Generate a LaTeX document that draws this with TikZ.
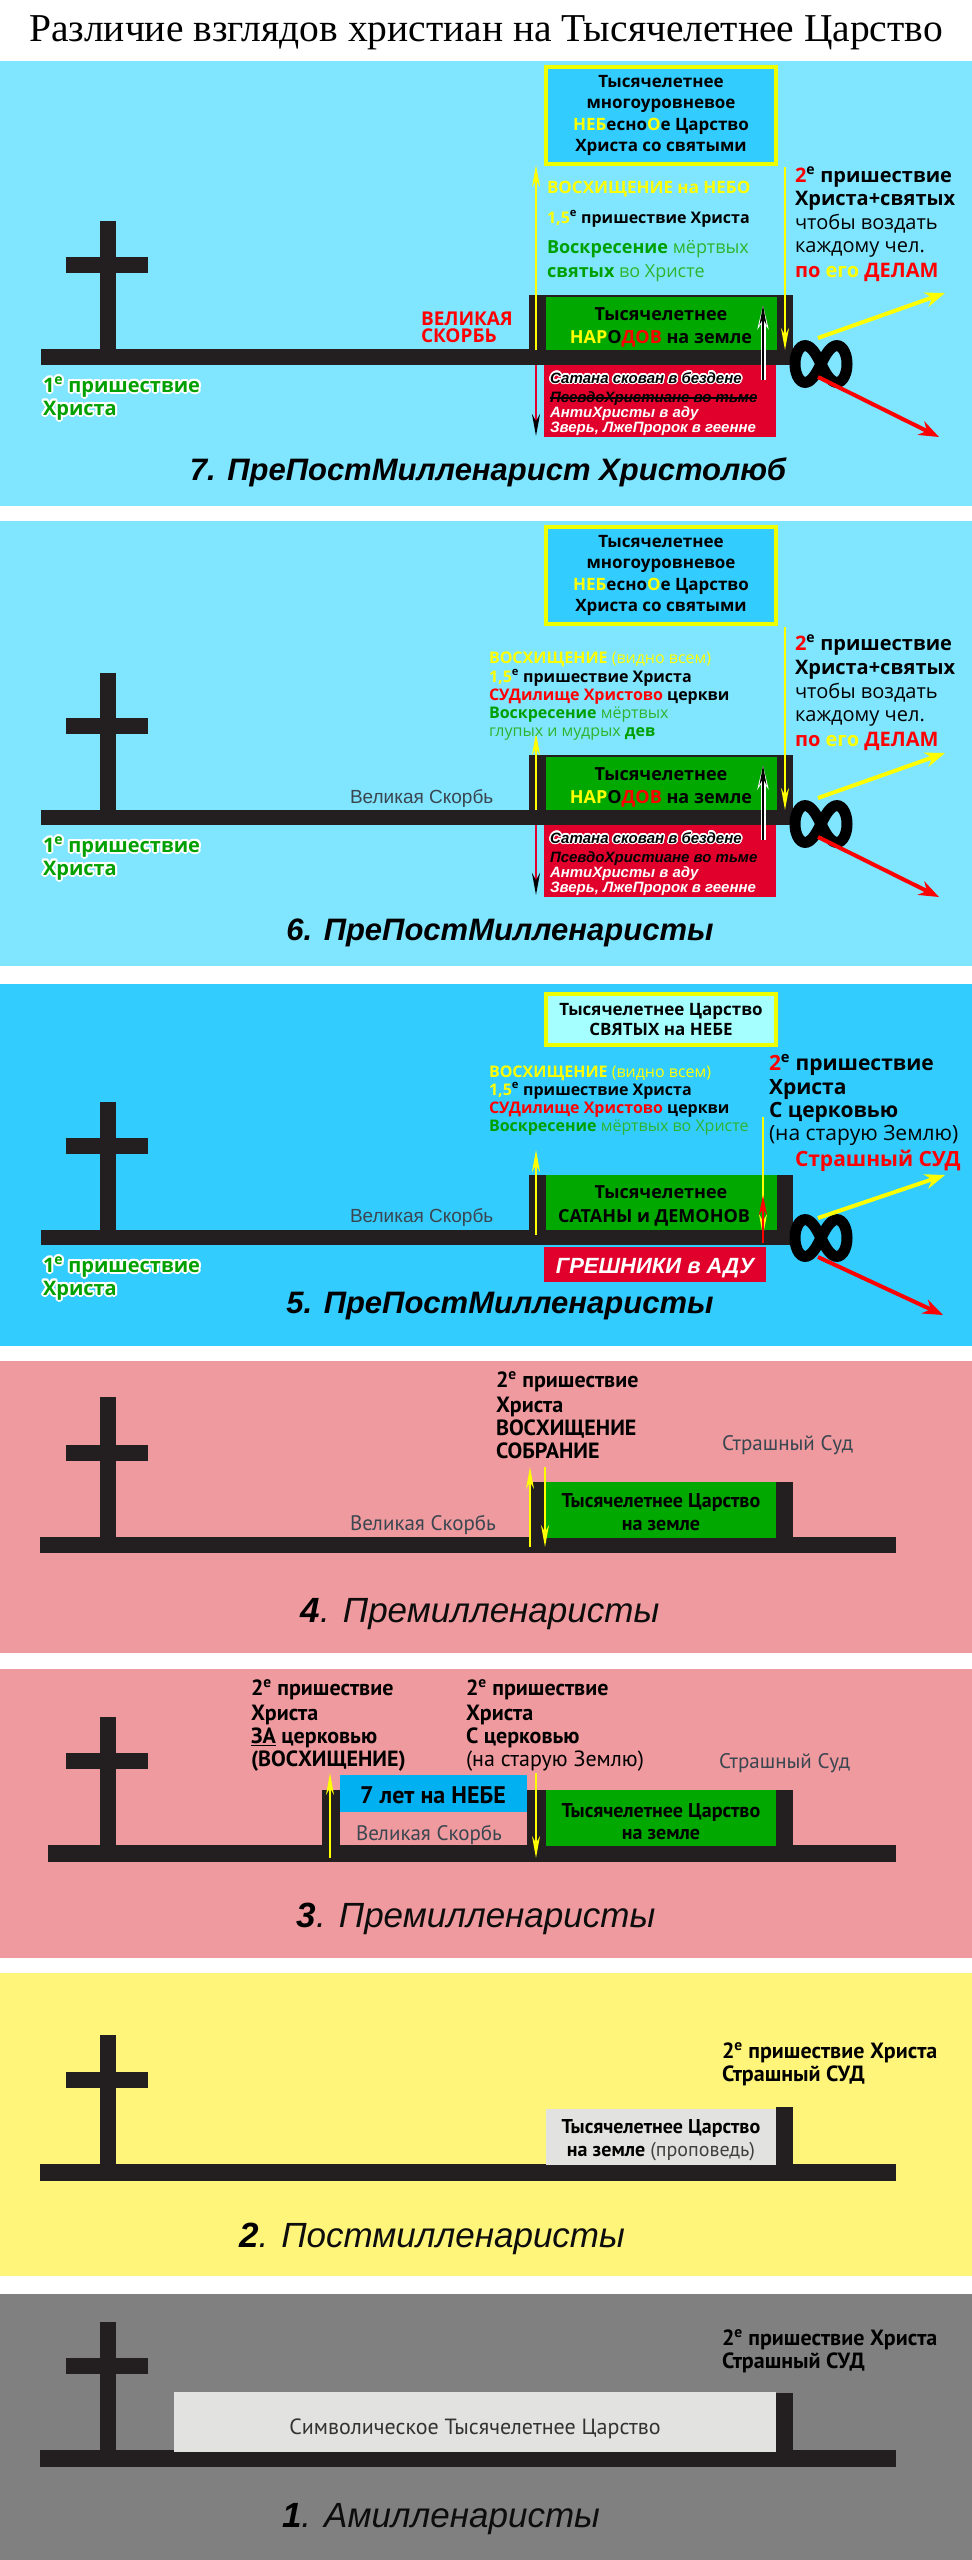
\documentclass[tikz,border=0pt]{standalone}
\usepackage{fontspec}
\setmainfont{Liberation Sans}
\newfontfamily\opensans{Open Sans}
\newfontfamily\ptsans{PT Sans}
\newfontfamily\titleserif{Liberation Serif}
\usepackage[copies]{contour}
\contourlength{1.3pt}
\usetikzlibrary{arrows.meta}
\definecolor{skylt}{HTML}{80E5FF}
\definecolor{skydk}{HTML}{33CCFF}
\definecolor{palecyan}{HTML}{A6FFFF}
\definecolor{kyellow}{HTML}{FFFF00}
\definecolor{rimyel}{HTML}{EEFF00}
\definecolor{kgreen}{HTML}{00A800}
\definecolor{tgreen}{HTML}{00A000}
\definecolor{lgreen}{HTML}{2DB52D}
\definecolor{kred}{HTML}{E0002B}
\definecolor{tred}{HTML}{FF0000}
\definecolor{pinkbg}{HTML}{EF9A9E}
\definecolor{yelbg}{HTML}{FFF57A}
\definecolor{graybg}{HTML}{808080}
\definecolor{tlblack}{HTML}{231F20}
\definecolor{greytext}{HTML}{3A4650}
\definecolor{heaven}{HTML}{00B0F0}
\definecolor{lightbox}{HTML}{E2E2E0}
\pgfdeclarelayer{bglayer}
\pgfdeclarelayer{edgelayer}
\pgfdeclarelayer{nodelayer}
\pgfsetlayers{bglayer,edgelayer,nodelayer,main}
\newcommand{\fsz}[1]{\fontsize{#1}{#1}\selectfont}
\newcommand{\supE}{\textsuperscript{е}}
\newcommand{\crossmark}[3]{%
  \fill[tlblack] (100,#1) rectangle (116,#3);
  \fill[tlblack] (66,#2) rectangle (148,#2+16);}
\newcommand{\infsign}[2]{%
  \draw[style=infinity] plot[domain=0:355, samples=72, smooth cycle]
    ({#1+26*cos(\x)/(1+pow(sin(\x),2))}, {#2+52*sin(\x)*cos(\x)/(1+pow(sin(\x),2))});}
\tikzstyle{none} = [inner sep=0pt, outer sep=0pt]
\tikzstyle{ttl} = [none, anchor=base, font=\bfseries\itshape\fsz{31}]
\tikzstyle{ttlnarrow} = [none, anchor=base, text=black!95, font=\itshape\fsz{35}]
\tikzstyle{boxline} = [none, anchor=base, font=\opensans\bfseries\fsz{17}]
\tikzstyle{lefttxt} = [none, anchor=base west, font=\opensans\bfseries\fsz{16}]
\tikzstyle{righttxt} = [none, anchor=base west, font=\opensans\bfseries\fsz{20}]
\tikzstyle{hell} = [none, anchor=base west, text=white, font=\bfseries\itshape\fsz{15}]
\tikzstyle{condtxt} = [none, anchor=base west, font=\ptsans\bfseries\fsz{22}]
\tikzstyle{greytxt} = [none, anchor=base west, text=greytext, font=\fsz{19}]
\tikzstyle{greynarrow} = [none, anchor=base west, text=greytext, font=\ptsans\fsz{21}]
\tikzstyle{yarrow} = [draw=kyellow, line width=2.5pt, -{Stealth[length=22pt,width=8pt]}]
\tikzstyle{rdown} = [draw=kred, line width=2.5pt, -{Stealth[length=22pt,width=8pt,color=black]}]
\tikzstyle{rup} = [draw=tred, line width=2.5pt, -{Stealth[length=20pt,width=8pt]}]
\tikzstyle{wbehind} = [draw=white, line width=5pt, -{Stealth[length=24pt,width=11pt]}]
\tikzstyle{barrow} = [draw=black, line width=2pt, -{Stealth[length=20pt,width=7pt]}]
\tikzstyle{ydiag} = [draw=kyellow, line width=4pt, -{Stealth[length=20pt,width=15pt]}]
\tikzstyle{rdiag} = [draw=tred, line width=4pt, -{Stealth[length=20pt,width=15pt]}]
\tikzstyle{infinity} = [draw=black, line width=11pt]
\begin{document}
\begin{tikzpicture}[x=1pt, y=-1pt]
	\useasboundingbox (0,0) rectangle (972,2560);
	\begin{pgfonlayer}{bglayer}
		\fill[white] (0,0) rectangle (972,2560);
		\fill[skylt] (0,61) rectangle (972,506);
		\fill[skylt] (0,521) rectangle (972,966);
		\fill[skydk] (0,984) rectangle (972,1346);
		\fill[pinkbg] (0,1361) rectangle (972,1653);
		\fill[pinkbg] (0,1669) rectangle (972,1958);
		\fill[yelbg] (0,1973) rectangle (972,2276);
		\fill[graybg] (0,2294) rectangle (972,2560);
		\crossmark{221}{257}{365}
		\fill[tlblack] (41,349) rectangle (793,365);
		\fill[tlblack] (529,295) rectangle (793,365);
		\fill[kgreen] (546,297) rectangle (777,350);
		\fill[kred] (544,365) rectangle (776,437);
		\filldraw[fill=skydk, draw=rimyel, line width=4pt] (546,67) rectangle (776,164);
		\crossmark{673}{718}{825}
		\fill[tlblack] (41,810) rectangle (793,825);
		\fill[tlblack] (529,755) rectangle (793,825);
		\fill[kgreen] (546,757) rectangle (777,810);
		\fill[kred] (544,825) rectangle (776,897);
		\filldraw[fill=skydk, draw=rimyel, line width=4pt] (546,527) rectangle (776,624);
		\crossmark{1102}{1138}{1245}
		\fill[tlblack] (41,1230) rectangle (793,1245);
		\fill[tlblack] (529,1175) rectangle (793,1245);
		\fill[kgreen] (546,1175) rectangle (777,1230);
		\fill[kred] (544,1247) rectangle (766,1282);
		\filldraw[fill=palecyan, draw=rimyel, line width=4pt] (546,994) rectangle (776,1045);
		\crossmark{1397}{1445}{1553}
		\fill[tlblack] (40,1537) rectangle (896,1553);
		\fill[tlblack] (530,1482) rectangle (793,1553);
		\fill[kgreen] (546,1482) rectangle (776,1538);
		\crossmark{1717}{1753}{1862}
		\fill[tlblack] (48,1845) rectangle (896,1862);
		\fill[tlblack] (322,1790) rectangle (340,1862);
		\fill[heaven] (340,1775) rectangle (527,1812);
		\fill[tlblack] (527,1790) rectangle (793,1862);
		\fill[kgreen] (546,1790) rectangle (776,1846);
		\crossmark{2035}{2072}{2181}
		\fill[tlblack] (40,2164) rectangle (896,2181);
		\fill[tlblack] (776,2107) rectangle (793,2181);
		\fill[lightbox] (546,2109) rectangle (776,2165);
		\crossmark{2322}{2358}{2467}
		\fill[tlblack] (40,2450) rectangle (896,2467);
		\fill[tlblack] (776,2393) rectangle (793,2467);
		\fill[lightbox] (174,2392) rectangle (776,2452);
	\end{pgfonlayer}
	\begin{pgfonlayer}{nodelayer}
		\node [style=none, anchor=base, font=\titleserif\fsz{39.5}] (head) at (486,41) {Различие взглядов христиан на Тысячелетнее Царство};
		\node [style=boxline] (p7k1) at (661,87) {Тысячелетнее};
		\node [style=boxline] (p7k2) at (661,108) {многоуровневое};
		\node [style=boxline] (p7k3) at (661,130) {{\color{kyellow}НЕБ}есно{\color{kyellow}О}е Царство};
		\node [style=boxline] (p7k4) at (661,151) {Христа со святыми};
		\node [style=lefttxt, text=kyellow, font=\opensans\bfseries\fsz{17}] (p7v1) at (547,193) {ВОСХИЩЕНИЕ на НЕБО};
		\node [style=lefttxt] (p7v2) at (547,223) {{\color{kyellow}1,5}\supE{} пришествие Христа};
		\node [style=lefttxt, text=lgreen, font=\opensans\fsz{18}] (p7v3) at (547,253) {{\bfseries\color{tgreen}Воскресение} мёртвых};
		\node [style=lefttxt, text=lgreen, font=\opensans\fsz{18}] (p7v4) at (547,277) {{\bfseries\color{tgreen}святых} во Христе};
		\node [style=righttxt] (p7r1) at (795,182) {{\color{tred}2}\supE{} пришествие};
		\node [style=righttxt] (p7r2) at (795,205) {Христа+святых};
		\node [style=righttxt, font=\opensans\fsz{20}] (p7r3) at (795,229) {чтобы воздать};
		\node [style=righttxt, font=\opensans\fsz{20}] (p7r4) at (795,252) {каждому чел.};
		\node [style=righttxt] (p7r5) at (795,277) {{\color{tred}по} {\color{kyellow}его} {\color{tred}ДЕЛАМ}};
		\node [style=none, anchor=base west, text=tred, font=\opensans\bfseries\fsz{19}] (p7s1) at (421,325) {ВЕЛИКАЯ};
		\node [style=none, anchor=base west, text=tred, font=\opensans\bfseries\fsz{19}] (p7s2) at (421,342) {СКОРБЬ};
		\node [style=boxline, font=\opensans\bfseries\fsz{18}] (p7g1) at (661,320) {Тысячелетнее};
		\node [style=boxline, font=\opensans\bfseries\fsz{18}] (p7g2) at (661,343) {{\color{kyellow}НАР}О{\color{tred}ДОВ} на земле};
		\node [style=hell, text=black] (p7h1) at (550,383) {\contour{white}{Сатана скован в бездене}};
		\node [style=hell, text=black] (p7h2) at (550,402) {ПсевдоХристиане во тьме};
		\node [style=hell] (p7h3) at (550,417) {АнтиХристы в аду};
		\node [style=hell] (p7h4) at (550,432) {Зверь, ЛжеПророк в геенне};
		\draw [black, line width=1.2pt] ([yshift=4pt]p7h2.base west) -- ([yshift=4pt]p7h2.base east);
		\node [style=none, anchor=base west, text=tgreen, font=\opensans\bfseries\fsz{20}] (p7c1) at (43,392) {\contourlength{2pt}\contour{white}{1\supE{} пришествие}};
		\node [style=none, anchor=base west, text=tgreen, font=\opensans\bfseries\fsz{20}] (p7c2) at (43,415) {\contourlength{2pt}\contour{white}{Христа}};
		\node [style=ttl] (p7t) at (488,480) {7. ПреПостМилленарист Христолюб};
		\node [style=none] (p7ua) at (536,350) {};
		\node [style=none] (p7ub) at (536,165) {};
		\node [style=none] (p7da) at (536,365) {};
		\node [style=none] (p7db) at (536,436) {};
		\node [style=none] (p7ra) at (785,167) {};
		\node [style=none] (p7rb) at (785,350) {};
		\node [style=none] (p7ba) at (763,380) {};
		\node [style=none] (p7bb) at (763,305) {};
		\node [style=none] (p7yi) at (818,338) {};
		\node [style=none] (p7yo) at (945,293) {};
		\node [style=none] (p7ri) at (818,377) {};
		\node [style=none] (p7ro) at (939,437) {};
		\node [style=boxline] (p6k1) at (661,547) {Тысячелетнее};
		\node [style=boxline] (p6k2) at (661,568) {многоуровневое};
		\node [style=boxline] (p6k3) at (661,590) {{\color{kyellow}НЕБ}есно{\color{kyellow}О}е Царство};
		\node [style=boxline] (p6k4) at (661,611) {Христа со святыми};
		\node [style=lefttxt, text=kyellow] (p6v1) at (489,663) {ВОСХИЩЕНИЕ {\mdseries (видно всем)}};
		\node [style=lefttxt] (p6v2) at (489,682) {{\color{kyellow}1,5}\supE{} пришествие Христа};
		\node [style=lefttxt] (p6v3) at (489,700) {{\color{tred}СУДилище Христово} церкви};
		\node [style=lefttxt, text=lgreen, font=\opensans\fsz{16}] (p6v4) at (489,718) {{\bfseries\color{tgreen}Воскресение} мёртвых};
		\node [style=lefttxt, text=lgreen, font=\opensans\fsz{16}] (p6v5) at (489,736) {глупых и мудрых {\bfseries\color{tgreen}дев}};
		\node [style=righttxt] (p6r1) at (795,650) {{\color{tred}2}\supE{} пришествие};
		\node [style=righttxt] (p6r2) at (795,674) {Христа+святых};
		\node [style=righttxt, font=\opensans\fsz{20}] (p6r3) at (795,698) {чтобы воздать};
		\node [style=righttxt, font=\opensans\fsz{20}] (p6r4) at (795,721) {каждому чел.};
		\node [style=righttxt] (p6r5) at (795,746) {{\color{tred}по} {\color{kyellow}его} {\color{tred}ДЕЛАМ}};
		\node [style=greytxt] (p6s) at (350,803) {Великая Скорбь};
		\node [style=boxline, font=\opensans\bfseries\fsz{18}] (p6g1) at (661,780) {Тысячелетнее};
		\node [style=boxline, font=\opensans\bfseries\fsz{18}] (p6g2) at (661,803) {{\color{kyellow}НАР}О{\color{tred}ДОВ} на земле};
		\node [style=hell, text=black] (p6h1) at (550,843) {\contour{white}{Сатана скован в бездене}};
		\node [style=hell, text=black] (p6h2) at (550,862) {ПсевдоХристиане во тьме};
		\node [style=hell] (p6h3) at (550,877) {АнтиХристы в аду};
		\node [style=hell] (p6h4) at (550,892) {Зверь, ЛжеПророк в геенне};
		\node [style=none, anchor=base west, text=tgreen, font=\opensans\bfseries\fsz{20}] (p6c1) at (43,852) {\contourlength{2pt}\contour{white}{1\supE{} пришествие}};
		\node [style=none, anchor=base west, text=tgreen, font=\opensans\bfseries\fsz{20}] (p6c2) at (43,875) {\contourlength{2pt}\contour{white}{Христа}};
		\node [style=ttl] (p6t) at (500,940) {6. ПреПостМилленаристы};
		\node [style=none] (p6ua) at (536,810) {};
		\node [style=none] (p6ub) at (536,733) {};
		\node [style=none] (p6da) at (536,825) {};
		\node [style=none] (p6db) at (536,895) {};
		\node [style=none] (p6ra) at (785,627) {};
		\node [style=none] (p6rb) at (785,810) {};
		\node [style=none] (p6ba) at (763,840) {};
		\node [style=none] (p6bb) at (763,765) {};
		\node [style=none] (p6yi) at (818,798) {};
		\node [style=none] (p6yo) at (945,753) {};
		\node [style=none] (p6ri) at (818,837) {};
		\node [style=none] (p6ro) at (939,897) {};
		\node [style=boxline] (p5k1) at (661,1015) {Тысячелетнее Царство};
		\node [style=boxline] (p5k2) at (661,1035) {СВЯТЫХ на НЕБЕ};
		\node [style=lefttxt, text=kyellow] (p5v1) at (489,1077) {ВОСХИЩЕНИЕ {\mdseries (видно всем)}};
		\node [style=lefttxt] (p5v2) at (489,1095) {{\color{kyellow}1,5}\supE{} пришествие Христа};
		\node [style=lefttxt] (p5v3) at (489,1113) {{\color{tred}СУДилище Христово} церкви};
		\node [style=lefttxt, text=lgreen, font=\opensans\fsz{16}] (p5v4) at (489,1131) {{\bfseries\color{tgreen}Воскресение} мёртвых во Христе};
		\node [style=righttxt, font=\opensans\bfseries\fsz{21}] (p5r1) at (769,1070) {{\color{tred}2}\supE{} пришествие};
		\node [style=righttxt, font=\opensans\bfseries\fsz{21}] (p5r2) at (769,1094) {Христа};
		\node [style=righttxt, font=\opensans\bfseries\fsz{21}] (p5r3) at (769,1117) {С церковью};
		\node [style=righttxt, font=\opensans\fsz{21}] (p5r4) at (769,1140) {(на старую Землю)};
		\node [style=righttxt, text=tred, font=\opensans\bfseries\fsz{21}] (p5r5) at (795,1166) {Страшный СУД};
		\node [style=greytxt] (p5s) at (350,1222) {Великая Скорбь};
		\node [style=boxline, font=\opensans\bfseries\fsz{18}] (p5g1) at (661,1198) {Тысячелетнее};
		\node [style=boxline, font=\opensans\bfseries\fsz{18}] (p5g2) at (654,1222) {САТАНЫ и ДЕМОНОВ};
		\node [style=none, anchor=base, text=white, font=\bfseries\itshape\fsz{22}] (p5h) at (655,1273) {ГРЕШНИКИ в АДУ};
		\node [style=none, anchor=base west, text=tgreen, font=\opensans\bfseries\fsz{20}] (p5c1) at (43,1272) {\contourlength{2pt}\contour{white}{1\supE{} пришествие}};
		\node [style=none, anchor=base west, text=tgreen, font=\opensans\bfseries\fsz{20}] (p5c2) at (43,1295) {\contourlength{2pt}\contour{white}{Христа}};
		\node [style=ttl] (p5t) at (500,1313) {5. ПреПостМилленаристы};
		\node [style=none] (p5ua) at (536,1235) {};
		\node [style=none] (p5ub) at (536,1150) {};
		\node [style=none] (p5ra) at (763,1117) {};
		\node [style=none] (p5rb) at (763,1236) {};
		\node [style=none] (p5qa) at (763,1243) {};
		\node [style=none] (p5qb) at (763,1195) {};
		\node [style=none] (p5yi) at (818,1218) {};
		\node [style=none] (p5yo) at (945,1175) {};
		\node [style=none] (p5ri) at (818,1257) {};
		\node [style=none] (p5ro) at (943,1315) {};
		\node [style=condtxt] (p4t1) at (496,1387) {2\supE{} пришествие};
		\node [style=condtxt] (p4t2) at (496,1412) {Христа};
		\node [style=condtxt] (p4t3) at (496,1435) {ВОСХИЩЕНИЕ};
		\node [style=condtxt] (p4t4) at (496,1458) {СОБРАНИЕ};
		\node [style=greynarrow] (p4j) at (722,1450) {Страшный Суд};
		\node [style=greynarrow] (p4s) at (350,1530) {Великая Скорбь};
		\node [style=none, anchor=base, font=\ptsans\bfseries\fsz{20}] (p4g1) at (661,1507) {Тысячелетнее Царство};
		\node [style=none, anchor=base, font=\ptsans\bfseries\fsz{20}] (p4g2) at (661,1530) {на земле};
		\node [style=ttlnarrow] (p4t) at (480,1622) {{\bfseries\color{black}4}. Премилленаристы};
		\node [style=none] (p4ua) at (530,1547) {};
		\node [style=none] (p4ub) at (530,1467) {};
		\node [style=none] (p4da) at (545,1467) {};
		\node [style=none] (p4db) at (545,1547) {};
		\node [style=condtxt] (p3a1) at (251,1695) {2\supE{} пришествие};
		\node [style=condtxt] (p3a2) at (251,1720) {Христа};
		\node [style=condtxt] (p3a3) at (251,1743) {\underline{ЗА} церковью};
		\node [style=condtxt] (p3a4) at (251,1766) {(ВОСХИЩЕНИЕ)};
		\node [style=condtxt] (p3b1) at (466,1695) {2\supE{} пришествие};
		\node [style=condtxt] (p3b2) at (466,1720) {Христа};
		\node [style=condtxt] (p3b3) at (466,1743) {С церковью};
		\node [style=condtxt, font=\ptsans\fsz{22}] (p3b4) at (466,1766) {(на старую Землю)};
		\node [style=greynarrow] (p3j) at (719,1768) {Страшный Суд};
		\node [style=none, anchor=base, font=\ptsans\bfseries\fsz{24}] (p3n) at (433,1803) {7 лет на НЕБЕ};
		\node [style=greynarrow] (p3s) at (356,1840) {Великая Скорбь};
		\node [style=none, anchor=base, font=\ptsans\bfseries\fsz{20}] (p3g1) at (661,1817) {Тысячелетнее Царство};
		\node [style=none, anchor=base, font=\ptsans\bfseries\fsz{20}] (p3g2) at (661,1839) {на земле};
		\node [style=ttlnarrow] (p3t) at (476,1927) {{\bfseries\color{black}3}. Премилленаристы};
		\node [style=none] (p3ua) at (330,1858) {};
		\node [style=none] (p3ub) at (330,1773) {};
		\node [style=none] (p3da) at (536,1773) {};
		\node [style=none] (p3db) at (536,1858) {};
		\node [style=condtxt] (p2r1) at (722,2058) {2\supE{} пришествие Христа};
		\node [style=condtxt] (p2r2) at (722,2081) {Страшный СУД};
		\node [style=none, anchor=base, font=\ptsans\bfseries\fsz{20}] (p2g1) at (661,2133) {Тысячелетнее Царство};
		\node [style=none, anchor=base, font=\ptsans\bfseries\fsz{20}] (p2g2) at (661,2156) {на земле {\mdseries\color{black!75}(проповедь)}};
		\node [style=ttlnarrow] (p2t) at (432,2247) {{\bfseries\color{black}2}. Постмилленаристы};
		\node [style=condtxt] (p1r1) at (722,2345) {2\supE{} пришествие Христа};
		\node [style=condtxt] (p1r2) at (722,2368) {Страшный СУД};
		\node [style=none, anchor=base, text=black!80, font=\ptsans\fsz{22}] (p1g) at (475,2434) {Символическое Тысячелетнее Царство};
		\node [style=ttlnarrow] (p1t) at (441,2527) {{\bfseries\color{black}1}. Амилленаристы};
	\end{pgfonlayer}
	\begin{pgfonlayer}{edgelayer}
		\infsign{821}{364}
		\infsign{821}{824}
		\infsign{821}{1238}
		\draw [style=yarrow] (p7ua.center) to (p7ub.center);
		\draw [style=rdown] (p7da.center) to (p7db.center);
		\draw [style=yarrow] (p7ra.center) to (p7rb.center);
		\draw [style=wbehind] (p7ba.center) to (p7bb.center);
		\draw [style=barrow] (p7ba.center) to (p7bb.center);
		\draw [style=ydiag] (p7yi.center) to (p7yo.center);
		\draw [style=rdiag] (p7ri.center) to (p7ro.center);
		\draw [style=yarrow] (p6ua.center) to (p6ub.center);
		\draw [style=rdown] (p6da.center) to (p6db.center);
		\draw [style=yarrow] (p6ra.center) to (p6rb.center);
		\draw [style=wbehind] (p6ba.center) to (p6bb.center);
		\draw [style=barrow] (p6ba.center) to (p6bb.center);
		\draw [style=ydiag] (p6yi.center) to (p6yo.center);
		\draw [style=rdiag] (p6ri.center) to (p6ro.center);
		\draw [style=yarrow] (p5ua.center) to (p5ub.center);
		\draw [style=yarrow] (p5ra.center) to (p5rb.center);
		\draw [style=rup] (p5qa.center) to (p5qb.center);
		\draw [style=ydiag] (p5yi.center) to (p5yo.center);
		\draw [style=rdiag] (p5ri.center) to (p5ro.center);
		\draw [style=yarrow, line width=2pt] (p4ua.center) to (p4ub.center);
		\draw [style=yarrow, line width=2pt] (p4da.center) to (p4db.center);
		\draw [style=yarrow, line width=2pt] (p3ua.center) to (p3ub.center);
		\draw [style=yarrow, line width=2pt] (p3da.center) to (p3db.center);
	\end{pgfonlayer}
\end{tikzpicture}
\end{document}
